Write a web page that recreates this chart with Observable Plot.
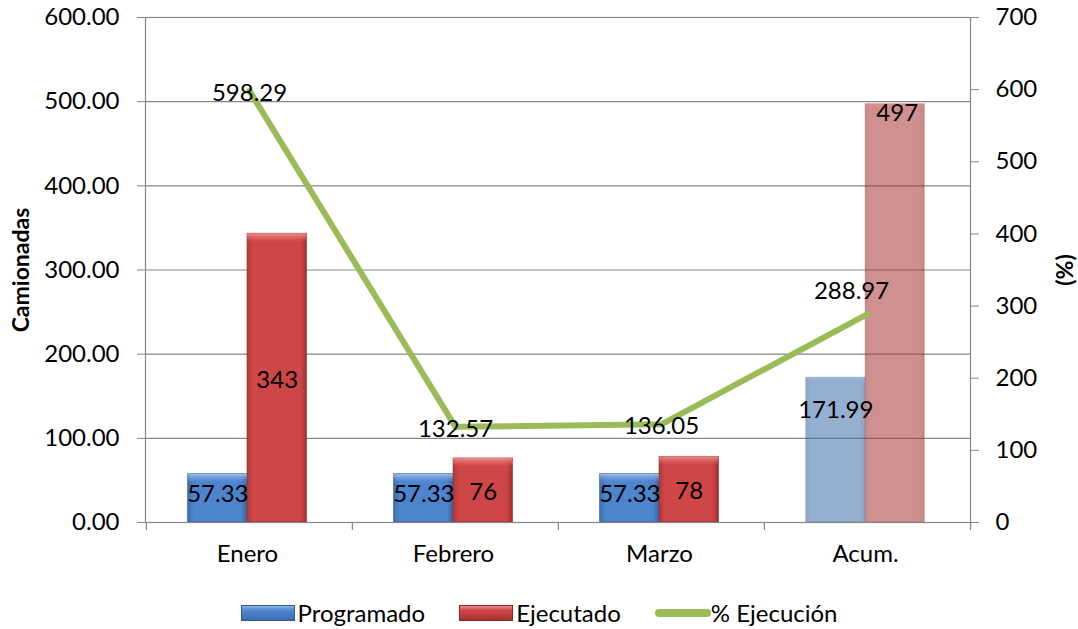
<!DOCTYPE html>
<html>
<head>
<meta charset="utf-8">
<script src="https://cdn.jsdelivr.net/npm/d3@7"></script>
<script src="https://cdn.jsdelivr.net/npm/@observablehq/plot@0.6"></script>
<style>
  body { margin: 0; background: #fff; font-family: Lato, "Open Sans", sans-serif; }
  #chart { width: 1078px; }
  .legend { display: flex; justify-content: center; align-items: center; gap: 34px; margin-top: 18px; font-size: 24px; color: #000; padding-left: 0px; }
  .legend .item { display: flex; align-items: center; }
  .sw { display: inline-block; width: 52px; height: 14px; margin-right: 3px; }
  .sw.blue { background: linear-gradient(to bottom, #8fb4e6 0%, #4f86cf 30%, #3c6db0 100%); border: 1px solid #2f5a92; }
  .sw.red { background: linear-gradient(to bottom, #ee8a8a 0%, #d24848 30%, #a93232 100%); border: 1px solid #8c2626; }
  .ln { display: inline-block; width: 56px; height: 8px; border-radius: 4px; background: #9bbb59; margin-right: 0px; }
</style>
</head>
<body>
<div id="chart"></div>
<div class="legend">
  <div class="item"><span class="sw blue"></span>Programado</div>
  <div class="item"><span class="sw red"></span>Ejecutado</div>
  <div class="item"><span class="ln"></span>% Ejecución</div>
</div>
<script>
const categories = ["Enero", "Febrero", "Marzo", "Acum."];
const programado = [57.33, 57.33, 57.33, 171.99];
const ejecutado = [343, 76, 78, 497];
const ejecucion = [598.29, 132.57, 136.05, 288.97];
const leftTicks = [0, 100, 200, 300, 400, 500, 600];
const rightTicks = [0, 100, 200, 300, 400, 500, 600, 700];

const W = 1078, H = 580, ML = 145, MR = 108, MT = 17, MB = 58;
const bw = (W - ML - MR) / categories.length;
const barW = bw * 0.288;
const k = 600 / 700; // right-axis to left-axis factor
const sh = -2; // small horizontal nudge of bar groups

const rows = categories.map((c, i) => ({cat: c, prog: programado[i], ejec: ejecutado[i], pct: ejecucion[i], acum: c === "Acum."}));
const main = rows.filter(d => !d.acum);
const acum = rows.filter(d => d.acum);
const grid = "#868686";

const L = {insetLeft: bw / 2 - barW, insetRight: bw / 2, dx: sh};
const R = {insetLeft: bw / 2, insetRight: bw / 2 - barW, dx: sh};

const plot = Plot.plot({
  width: W, height: H,
  marginLeft: ML, marginRight: MR, marginTop: MT, marginBottom: MB,
  style: {fontFamily: "Lato, 'Open Sans', sans-serif", fontSize: "24px", color: "#000", background: "#fff"},
  x: {type: "band", domain: categories, padding: 0, label: null},
  y: {domain: [0, 600], label: null},
  marks: [
    Plot.gridY({ticks: leftTicks, stroke: grid, strokeOpacity: 1, strokeWidth: 1.2}),
    // bars (regular months)
    Plot.barY(main, {x: "cat", y: "prog", fill: "url(#gBlue)", stroke: "#2f5a92", strokeWidth: 0.8, ...L}),
    Plot.barY(main, {x: "cat", y: "ejec", fill: "url(#gRed)", stroke: "#8c2626", strokeWidth: 0.8, ...R}),
    Plot.barY(main, {x: "cat", y1: "prog", y2: "prog", insetBottom: -9, fill: "url(#gBlueTop)", ...L}),
    Plot.barY(main, {x: "cat", y1: "ejec", y2: "ejec", insetBottom: -9, fill: "url(#gRedTop)", ...R}),
    // accumulated (translucent)
    Plot.barY(acum, {x: "cat", y: "prog", fill: "url(#gBlueA)", fillOpacity: 0.55, stroke: "#2f5a92", strokeOpacity: 0.25, ...L}),
    Plot.barY(acum, {x: "cat", y: "ejec", fill: "url(#gRedA)", fillOpacity: 0.55, stroke: "#8c2626", strokeOpacity: 0.25, ...R}),
    Plot.barY(acum, {x: "cat", y1: "prog", y2: "prog", insetBottom: -9, fill: "url(#gBlueTop)", fillOpacity: 0.4, ...L}),
    Plot.barY(acum, {x: "cat", y1: "ejec", y2: "ejec", insetBottom: -9, fill: "url(#gRedTop)", fillOpacity: 0.4, ...R}),
    Plot.frame({stroke: grid, strokeWidth: 1.2}),
    // category boundary ticks
    Plot.ruleX(rows, {x: "cat", y1: 0, y2: 0, dx: -bw / 2, insetBottom: -8, stroke: grid, strokeWidth: 1.2}),
    Plot.ruleX(acum, {x: "cat", y1: 0, y2: 0, dx: bw / 2, insetBottom: -8, stroke: grid, strokeWidth: 1.2}),
    // axes
    Plot.axisY({ticks: leftTicks, tickFormat: d => d.toFixed(2), tickSize: 8, tickPadding: 18, stroke: grid, label: null}),
    Plot.axisY({anchor: "right", ticks: rightTicks.map(v => v * k), tickFormat: d => String(Math.round(d / k)), tickSize: 8, tickPadding: 17, stroke: grid, label: null}),
    Plot.axisX({tickSize: 0, tickPadding: 22, label: null, dx: sh}),
    Plot.text(["Camionadas"], {frameAnchor: "left", textAnchor: "middle", rotate: -90, dx: -124, fontWeight: "bold", fontSize: 23}),
    Plot.text(["(%)"], {frameAnchor: "right", textAnchor: "middle", rotate: -90, dx: 95, fontWeight: "bold", fontSize: 23}),
    // bar labels
    Plot.text(main, {x: "cat", y: d => d.prog / 2, text: d => d.prog.toFixed(2), dx: sh - barW / 2, dy: -4}),
    Plot.text(main, {x: "cat", y: d => d.ejec / 2, text: d => String(d.ejec), dx: sh + barW / 2, dy: 2}),
    Plot.text(acum, {x: "cat", y: "prog", text: d => d.prog.toFixed(2), dx: sh - barW / 2, dy: 33}),
    Plot.text(acum, {x: "cat", y: "ejec", text: d => String(d.ejec), dx: sh + barW / 2 + 2, dy: 9}),
    // % line
    Plot.line(rows, {x: "cat", y: d => d.pct * k, stroke: "#9bbb59", strokeWidth: 6}),
    Plot.text(main, {x: "cat", y: d => d.pct * k, text: d => d.pct.toFixed(2), dy: 2}),
    Plot.text(acum, {x: "cat", y: d => d.pct * k, text: d => d.pct.toFixed(2), dx: -16, dy: -23})
  ]
});

// gradient defs for the bevel look
const svg = d3.select(plot);
const defs = svg.insert("defs", ":first-child");
function grad(id, stops, vertical) {
  const g = defs.append("linearGradient").attr("id", id)
    .attr("x1", 0).attr("y1", 0).attr("x2", vertical ? 0 : 1).attr("y2", vertical ? 1 : 0);
  stops.forEach(([o, c, a]) => g.append("stop").attr("offset", o).attr("stop-color", c).attr("stop-opacity", a == null ? 1 : a));
}
grad("gBlue", [[0, "#3f70b2"], [0.1, "#4d84cd"], [0.9, "#4d84cd"], [1, "#3a66a3"]]);
grad("gRed", [[0, "#b33838"], [0.1, "#cf4646"], [0.9, "#cf4646"], [1, "#a53030"]]);
grad("gBlueA", [[0, "#355f96"], [0.1, "#3e6eaa"], [0.9, "#3e6eaa"], [1, "#325a8e"]]);
grad("gRedA", [[0, "#982e2e"], [0.1, "#a83535"], [0.9, "#a83535"], [1, "#8f2a2a"]]);
grad("gBlueTop", [[0, "#a9c8f0", 0.9], [1, "#6c9ad8", 0]], true);
grad("gRedTop", [[0, "#f29a9a", 0.9], [1, "#dc6464", 0]], true);

document.getElementById("chart").appendChild(plot);
</script>
</body>
</html>
